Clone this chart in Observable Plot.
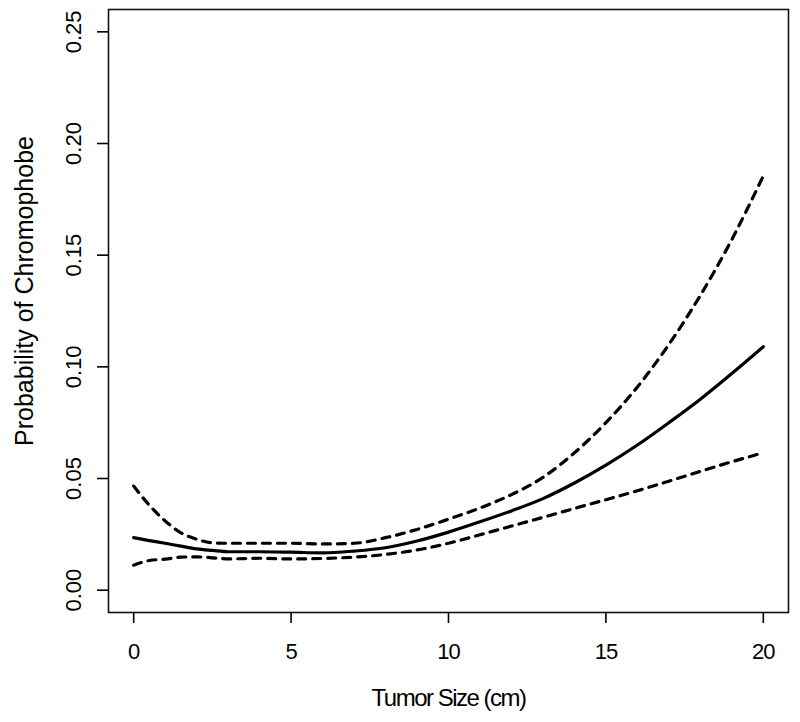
<!DOCTYPE html>
<html>
<head>
<meta charset="utf-8">
<script src="https://cdn.jsdelivr.net/npm/d3@7"></script>
<script src="https://cdn.jsdelivr.net/npm/@observablehq/plot@0.6"></script>
<style>
  html, body { margin: 0; padding: 0; background: #fff; }
  svg { display: block; }
</style>
</head>
<body>
<div id="chart"></div>
<script>
// Tumor size (cm)
const sizes = [0, 0.5, 1, 1.5, 2, 2.5, 3, 4, 5, 6, 7, 8, 9, 10, 11, 12, 13, 14, 15, 16, 17, 18, 19, 20];
// Estimated probability of chromophobe
const fit = [0.0235, 0.0222, 0.021, 0.0197, 0.0185, 0.0178, 0.0172, 0.0172, 0.017, 0.0167, 0.0175, 0.019, 0.022, 0.026, 0.0306, 0.0355, 0.041, 0.048, 0.056, 0.065, 0.075, 0.0855, 0.097, 0.109];
// Upper confidence bound
const upper = [0.0466, 0.038, 0.031, 0.0257, 0.0228, 0.0212, 0.021, 0.021, 0.021, 0.0207, 0.021, 0.0235, 0.0272, 0.0318, 0.0368, 0.0428, 0.0505, 0.0615, 0.075, 0.091, 0.11, 0.132, 0.157, 0.1855];
// Lower confidence bound
const lower = [0.0112, 0.0133, 0.0139, 0.0148, 0.0149, 0.0145, 0.014, 0.0143, 0.014, 0.0142, 0.0148, 0.016, 0.018, 0.021, 0.0248, 0.0287, 0.0326, 0.0366, 0.0405, 0.0445, 0.0488, 0.0532, 0.0575, 0.0615];

const xTicks = [0, 5, 10, 15, 20];
const yTicks = [0, 0.05, 0.10, 0.15, 0.20, 0.25];
const xTitle = "Tumor Size (cm)";
const yTitle = "Probability of Chromophobe";

const rows = sizes.map((s, i) => ({size: s, fit: fit[i], upper: upper[i], lower: lower[i]}));

const font = "'Liberation Sans', Arial, sans-serif";

const chart = Plot.plot({
  width: 800,
  height: 722,
  marginLeft: 108,
  marginRight: 12,
  marginTop: 9,
  marginBottom: 110,
  style: {fontFamily: font, fontSize: "22px", color: "#000", background: "#fff"},
  x: {domain: [-0.8, 20.8]},
  y: {domain: [-0.01, 0.26]},
  marks: [
    Plot.frame({stroke: "#111", strokeWidth: 1.6}),
    Plot.axisX({ticks: xTicks, tickSize: 11, tickPadding: 20, tickFormat: d => String(d), label: null, fontSize: 22, strokeWidth: 1.6}),
    Plot.axisY({ticks: yTicks, tickSize: 11, tickFormat: () => "", label: null, strokeWidth: 1.6}),
    Plot.text(yTicks, {y: d => d, text: d => d.toFixed(2), frameAnchor: "left", dx: -35, rotate: -90, textAnchor: "middle", lineAnchor: "middle", fontSize: 22}),
    Plot.text([yTitle], {frameAnchor: "left", dx: -84, dy: -20, rotate: -90, textAnchor: "middle", lineAnchor: "middle", fontSize: 25}),
    Plot.text([xTitle], {frameAnchor: "bottom", dy: 86, textAnchor: "middle", lineAnchor: "middle", fontSize: 24}),
    Plot.line(rows, {x: "size", y: "upper", stroke: "#000", strokeWidth: 3.2, strokeDasharray: "8,7", curve: "monotone-x"}),
    Plot.line(rows, {x: "size", y: "lower", stroke: "#000", strokeWidth: 3.2, strokeDasharray: "8,7", curve: "monotone-x"}),
    Plot.line(rows, {x: "size", y: "fit", stroke: "#000", strokeWidth: 3.2, curve: "monotone-x"})
  ]
});
// condensed look of the original text rendering
d3.select(chart).selectAll("text").each(function() {
  const t = this.textContent;
  if (t === xTitle) this.setAttribute("letter-spacing", "-1.5");
  else if (/^\d+$/.test(t)) this.setAttribute("letter-spacing", "-1");
});
document.getElementById("chart").appendChild(chart);
</script>
</body>
</html>
